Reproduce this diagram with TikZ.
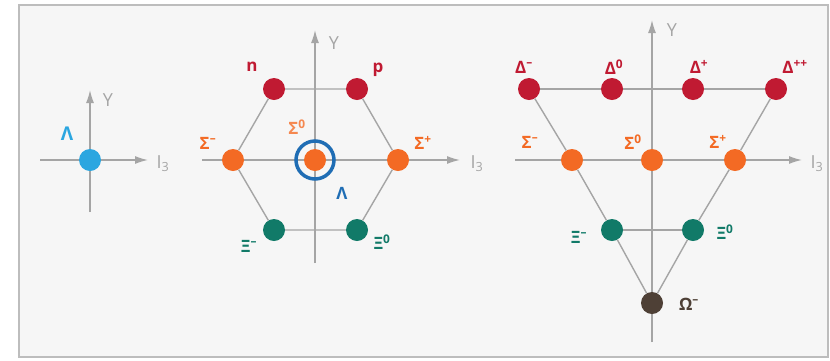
\documentclass[tikz,border=0pt]{standalone}
\usepackage{fontspec}
\setmainfont{Open Sans}
\usetikzlibrary{positioning,arrows.meta}
\usepackage{xcolor}
\definecolor{axisgray}{HTML}{A5A5A5}
\definecolor{framegray}{HTML}{BDBDBD}
\definecolor{paper}{HTML}{F6F6F6}
\definecolor{nucred}{HTML}{C01A32}
\definecolor{sigorange}{HTML}{F36A24}
\definecolor{xiteal}{HTML}{117A68}
\definecolor{omegabrown}{HTML}{4E4036}
\definecolor{lamblue}{HTML}{2BA6E0}
\definecolor{ringblue}{HTML}{1F6DB4}

\tikzset{
  dot/.style={circle,inner sep=0pt,minimum size=22pt,fill=#1},
  axis/.style={draw=axisgray,line width=1.4pt,-{Latex[length=13pt,width=8pt]}},
  link/.style={draw=axisgray,line width=1.4pt},
  tag/.style={font=\bfseries\fontsize{17}{17}\selectfont,text=#1,inner sep=0pt},
  axlab/.style={font=\fontsize{18}{18}\selectfont,text=axisgray,inner sep=0pt}
}

\begin{document}
\begin{tikzpicture}[x=1pt,y=-1pt]
\useasboundingbox (0,0) rectangle (830,360);
\draw[draw=framegray,fill=paper,line width=1.2pt] (19,5) rectangle (828,357);

% singlet
\coordinate (lx0) at (40,160); \coordinate (lx1) at (148,160);
\coordinate (ly0) at (90,212); \coordinate (ly1) at (90,90);
\draw[axis] (lx0) -- (lx1);
\draw[axis] (ly0) -- (ly1);
\node[dot=lamblue] (lam) at (90,160) {};
\node[tag=lamblue,font=\bfseries\fontsize{19}{19}\selectfont] (lamL) at (67,134) {Λ};
\node[axlab] (lY) at (108,100) {Y};
\node[axlab] (lI) at (163,164) {I\textsubscript{3}};

% octet
\coordinate (mx0) at (202,160); \coordinate (mx1) at (460,160);
\coordinate (my0) at (315,263); \coordinate (my1) at (315,30);
\draw[axis] (mx0) -- (mx1);
\draw[axis] (my0) -- (my1);
\node[dot=nucred] (n) at (274,89) {};
\node[dot=nucred] (p) at (357,89) {};
\node[dot=sigorange] (msm) at (233,160) {};
\node[dot=sigorange] (ms0) at (315,160) {};
\node[dot=sigorange] (msp) at (398,160) {};
\node[dot=xiteal] (mxm) at (274,230) {};
\node[dot=xiteal] (mx0d) at (357,230) {};
\node[draw=ringblue,line width=3.5pt,circle,minimum size=38pt,inner sep=0pt] (ring) at (ms0) {};
\draw[link] (n) -- (p) (p) -- (msp) (msp) -- (mx0d) (mx0d) -- (mxm) (mxm) -- (msm) (msm) -- (n);
\node[tag=nucred] (nL) at (252,67) {n};
\node[tag=nucred] (pL) at (378,70) {p};
\node[tag=sigorange] (msmL) at (208,143) {Σ\textsuperscript{–}};
\node[tag=sigorange!80] (ms0L) at (297,127) {Σ\textsuperscript{0}};
\node[tag=sigorange] (mspL) at (423,143) {Σ\textsuperscript{+}};
\node[tag=ringblue] (mlamL) at (342,193) {Λ};
\node[tag=xiteal] (mxmL) at (249,246) {Ξ\textsuperscript{–}};
\node[tag=xiteal] (mx0L) at (382,242) {Ξ\textsuperscript{0}};
\node[axlab] (mY) at (334,43) {Y};
\node[axlab] (mI) at (477,164) {I\textsubscript{3}};

% decuplet
\coordinate (rx0) at (515,160); \coordinate (rx1) at (802,160);
\coordinate (ry0) at (652,342); \coordinate (ry1) at (652,20);
\draw[axis] (rx0) -- (rx1);
\draw[axis] (ry0) -- (ry1);
\node[dot=nucred] (dm) at (529,89) {};
\node[dot=nucred] (d0) at (612,89) {};
\node[dot=nucred] (dp) at (693,89) {};
\node[dot=nucred] (dpp) at (776,89) {};
\node[dot=sigorange] (rsm) at (572,160) {};
\node[dot=sigorange] (rs0) at (652,160) {};
\node[dot=sigorange] (rsp) at (735,160) {};
\node[dot=xiteal] (rxm) at (612,230) {};
\node[dot=xiteal] (rx0d) at (693,230) {};
\node[dot=omegabrown] (om) at (652,303) {};
\draw[link] (dm) -- (d0) (d0) -- (dp) (dp) -- (dpp);
\draw[link] (dm) -- (rsm) (rsm) -- (rxm) (rxm) -- (om);
\draw[link] (dpp) -- (rsp) (rsp) -- (rx0d) (rx0d) -- (om);
\draw[link] (rxm) -- (rx0d);
\node[tag=nucred] (dmL) at (524,67) {Δ\textsuperscript{–}};
\node[tag=nucred] (d0L) at (614,67) {Δ\textsuperscript{0}};
\node[tag=nucred] (dpL) at (699,67) {Δ\textsuperscript{+}};
\node[tag=nucred] (dppL) at (795,67) {Δ\textsuperscript{++}};
\node[tag=sigorange] (rsmL) at (530,142) {Σ\textsuperscript{–}};
\node[tag=sigorange] (rs0L) at (633,142) {Σ\textsuperscript{0}};
\node[tag=sigorange] (rspL) at (718,142) {Σ\textsuperscript{+}};
\node[tag=xiteal] (rxmL) at (579,237) {Ξ\textsuperscript{–}};
\node[tag=xiteal] (rx0L) at (725,232) {Ξ\textsuperscript{0}};
\node[tag=omegabrown] (omL) at (689,304) {Ω\textsuperscript{–}};
\node[axlab] (rY) at (672,30) {Y};
\node[axlab] (rI) at (817,164) {I\textsubscript{3}};
\end{tikzpicture}
\end{document}
